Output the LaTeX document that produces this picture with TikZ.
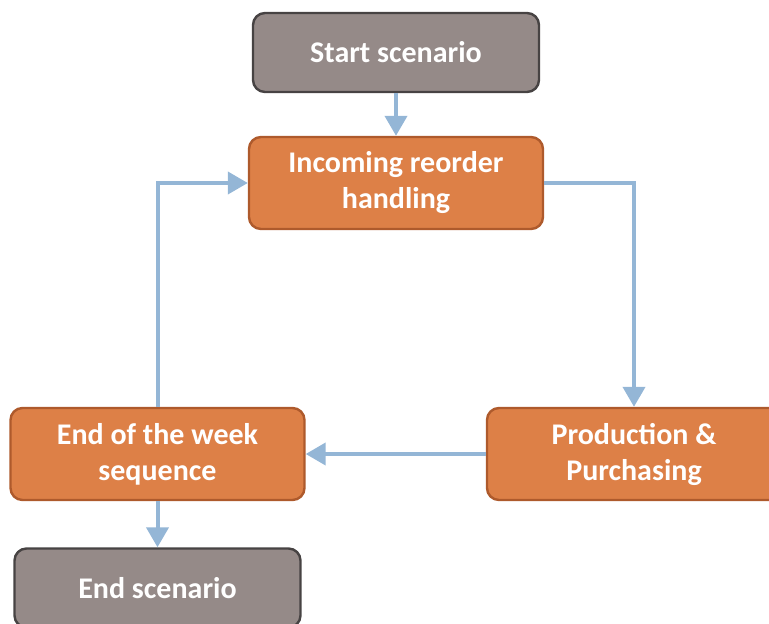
\documentclass[tikz,border=0pt]{standalone}
\usepackage{fontspec}
\setmainfont{Carlito}
\usetikzlibrary{arrows.meta}
\definecolor{boxorange}{HTML}{DD8047}
\definecolor{orangeedge}{HTML}{AE5A2C}
\definecolor{boxgray}{HTML}{958A88}
\definecolor{grayedge}{HTML}{474343}
\definecolor{flowblue}{HTML}{94B6D6}
\tikzset{
  x=1pt, y=-1pt,
  stage/.style={draw=orangeedge, fill=boxorange, line width=2.4pt,
    rounded corners=12pt, minimum width=294pt, minimum height=92pt,
    text=white, font=\bfseries\fontsize{30}{36}\selectfont, align=center, inner sep=0pt},
  terminal/.style={stage, draw=grayedge, fill=boxgray, minimum width=286pt, minimum height=79pt},
  flow/.style={draw=flowblue, line width=4pt,
    -{Triangle[width=22pt,length=20pt]}}
}
\begin{document}
\begin{tikzpicture}
\useasboundingbox (0,0) rectangle (769,624);
\node[terminal] (start) at (396,52.5) {Start scenario};
\node[stage] (incoming) at (396,183) {Incoming reorder\\handling};
\node[stage] (prod) at (634,454) {Production \&\\Purchasing};
\node[stage] (eow) at (157.5,454) {End of the week\\sequence};
\node[terminal] (end) at (157.5,588) {End scenario};
\draw[flow] (start) -- (incoming);
\draw[flow] (incoming.east) -| (prod.north);
\draw[flow] (prod.west) -- (eow.east);
\draw[flow] (eow.north) |- (incoming.west);
\draw[flow] (eow) -- (end);
\end{tikzpicture}
\end{document}
